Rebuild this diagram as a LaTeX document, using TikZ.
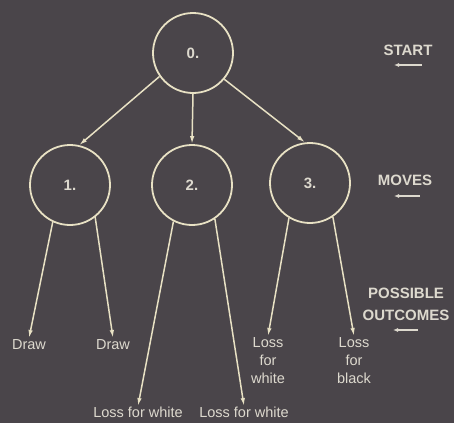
\documentclass[tikz,border=0pt]{standalone}
\usepackage{fontspec}
\setmainfont{Liberation Sans}
\usetikzlibrary{arrows.meta}
\definecolor{bg}{HTML}{4A454A}
\definecolor{ink}{HTML}{E8E1C4}
\definecolor{txt}{HTML}{DDD9CE}
\begin{document}
\begin{tikzpicture}[x=1pt,y=-1pt,
  state/.style={circle,draw=ink,line width=1.8pt,minimum size=80pt,inner sep=0pt,text=txt,font=\fontsize{15}{18}\selectfont\bfseries},
  arr/.style={draw=ink,line width=1.5pt,-{Latex[length=8pt,width=4.5pt]}},
  lbl/.style={text=txt,font=\fontsize{14.5}{18}\selectfont,inner sep=1pt,align=center},
  side/.style={text=txt,font=\fontsize{15}{22}\selectfont\bfseries,inner sep=0pt,align=center},
  small/.style={draw=txt,line width=1.2pt,-{Latex[length=5pt,width=4pt]}}]
\fill[bg] (0,0) rectangle (454,423);
\useasboundingbox (0,0) rectangle (454,423);
% states
\node[state] (n0) at (193,53) {0.};
\node[state] (n1) at (70,185) {1.};
\node[state] (n2) at (192,185) {2.};
\node[state] (n3) at (310,183) {3.};
% outcome labels
\node[lbl,anchor=north] (d1) at (29,338) {Draw};
\node[lbl,anchor=north] (d2) at (113,338) {Draw};
\node[lbl,anchor=north] (l1) at (138,406) {Loss for white};
\node[lbl,anchor=north] (l2) at (244,406) {Loss for white};
\node[lbl,anchor=north] (w3) at (268,336) {Loss\\for\\white};
\node[lbl,anchor=north] (b3) at (354,336) {Loss\\for\\black};
% arrows
\draw[arr] (n0.215) -- (n1.77);
\draw[arr] (n0.south) -- (n2.north);
\draw[arr] (n0.320) -- (n3.97);
\draw[arr] (n1.245) -- (d1.north);
\draw[arr] (n1.308) -- (d2.north);
\draw[arr] (n2.243) -- (l1.north);
\draw[arr] (n2.304) -- (l2.north);
\draw[arr] (n3.239) -- (w3.north);
\draw[arr] (n3.304) -- (b3.north);
% side legend
\node[side] (start) at (408,50) {START};
\node[side] (moves) at (405,180) {MOVES};
\node[side] (outc) at (406,304) {POSSIBLE\\OUTCOMES};
\coordinate (s1) at (422,65); \coordinate (s2) at (394,65);
\coordinate (m1) at (420,196); \coordinate (m2) at (394,196);
\coordinate (o1) at (418,330); \coordinate (o2) at (393,330);
\draw[small] (s1) -- (s2);
\draw[small] (m1) -- (m2);
\draw[small] (o1) -- (o2);
\end{tikzpicture}
\end{document}
